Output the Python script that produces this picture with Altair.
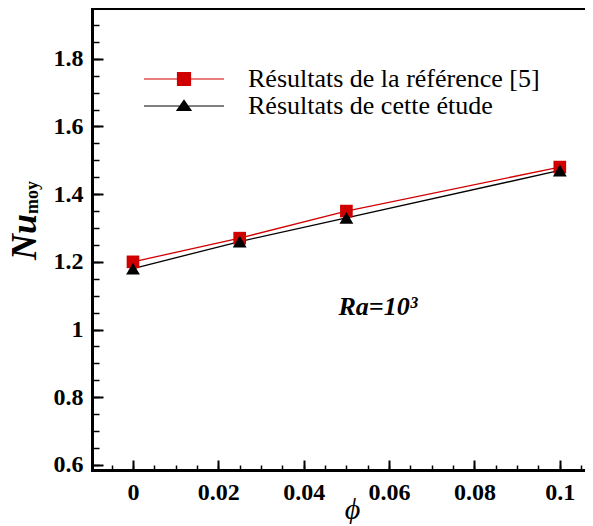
import altair as alt
import pandas as pd

# ---- data ----
phi = [0.0, 0.025, 0.05, 0.1]
nu_reference = [1.20, 1.27, 1.35, 1.48]
nu_study = [1.18, 1.26, 1.33, 1.47]
series_names = ["Résultats de la référence [5]", "Résultats de cette étude"]
series_colors = ["#d00000", "#000000"]

x_major = [0, 0.02, 0.04, 0.06, 0.08, 0.1]
x_minor = [-0.005, 0.0, 0.005, 0.01, 0.015, 0.02, 0.025, 0.03, 0.035, 0.04, 0.045,
           0.05, 0.055, 0.06, 0.065, 0.07, 0.075, 0.08, 0.085, 0.09, 0.095, 0.1, 0.105]
y_major = [0.6, 0.8, 1.0, 1.2, 1.4, 1.6, 1.8]
y_minor = [0.6, 0.65, 0.7, 0.75, 0.8, 0.85, 0.9, 0.95, 1.0, 1.05, 1.1, 1.15, 1.2, 1.25,
           1.3, 1.35, 1.4, 1.45, 1.5, 1.55, 1.6, 1.65, 1.7, 1.75, 1.8, 1.85, 1.9]

ann_x = [0.0574]
ann_y = [1.066]
ann_text = ["Ra=10³"]

x_domain = [-0.0096, 0.1059]
y_domain = [0.585, 1.95]

FONT = "Liberation Serif"

rows = []
for p, a, b in zip(phi, nu_reference, nu_study):
    rows.append({"phi": p, "nu": a, "series": series_names[0]})
    rows.append({"phi": p, "nu": b, "series": series_names[1]})
df = pd.DataFrame(rows)
ann = pd.DataFrame({"x": ann_x, "y": ann_y, "t": ann_text})

xs = alt.Scale(domain=x_domain, nice=False, zero=False)
ys = alt.Scale(domain=y_domain, nice=False, zero=False)

x_main = alt.Axis(orient="bottom", values=x_major, format="~g", ticks=False, domain=True,
                  domainWidth=3, domainColor="black", domainCap="square",
                  labelFont=FONT, labelFontSize=24, labelFontWeight="bold", labelColor="black",
                  labelPadding=10, title="ϕ", titleFont=FONT, titleFontSize=30,
                  titleFontStyle="italic", titleFontWeight="normal", titleColor="black",
                  titleBaseline="alphabetic", titleY=48, titleX=260)
y_main = alt.Axis(orient="left", values=y_major, format="~g", ticks=False, domain=True,
                  domainWidth=3, domainColor="black", domainCap="square",
                  labelFont=FONT, labelFontSize=24, labelFontWeight="bold", labelColor="black",
                  labelPadding=9, title=None)
x_maj_ticks = alt.Axis(orient="bottom", values=x_major, offset=-10, tickSize=10, tickWidth=2,
                       tickColor="black", labels=False, domain=False, title=None)
y_maj_ticks = alt.Axis(orient="left", values=y_major, offset=-11, tickSize=11, tickWidth=2,
                       tickColor="black", labels=False, domain=False, title=None)
x_min_ticks = alt.Axis(orient="bottom", values=x_minor, offset=-5, tickSize=5, tickWidth=1.5,
                       tickColor="black", labels=False, domain=False, title=None)
y_min_ticks = alt.Axis(orient="left", values=y_minor, offset=-7, tickSize=7, tickWidth=1.5,
                       tickColor="black", labels=False, domain=False, title=None)
x_top = alt.Axis(orient="top", ticks=False, labels=False, domain=True, domainWidth=3,
                 domainColor="black", domainCap="square", title=None, values=x_major)

ref_df = df[df.series == series_names[0]]
stu_df = df[df.series == series_names[1]]

red_line = alt.Chart(ref_df).mark_line(color=series_colors[0], strokeWidth=1.3).encode(
    x=alt.X("phi:Q", scale=xs, axis=x_main),
    y=alt.Y("nu:Q", scale=ys, axis=y_main),
)
black_line = alt.Chart(stu_df).mark_line(color=series_colors[1], strokeWidth=1.3).encode(
    x=alt.X("phi:Q", scale=xs, axis=x_maj_ticks),
    y=alt.Y("nu:Q", scale=ys, axis=y_maj_ticks),
)
red_sq = alt.Chart(ref_df).mark_square(color=series_colors[0], size=160, opacity=1).encode(
    x=alt.X("phi:Q", scale=xs, axis=x_min_ticks),
    y=alt.Y("nu:Q", scale=ys, axis=y_min_ticks),
)
black_tri = alt.Chart(stu_df).mark_point(shape="triangle-up", filled=True, color=series_colors[1],
                                         size=190, opacity=1).encode(
    x=alt.X("phi:Q", scale=xs, axis=x_top),
    y=alt.Y("nu:Q", scale=ys, axis=None),
)

sq_path = "M-4,0H4M-0.65,-0.65H0.65V0.65H-0.65Z"
tri_path = "M-4,0H4M0,-0.56L0.7,0.44H-0.7Z"
leg = alt.Legend(title=None, orient="none", legendX=79, legendY=58, symbolSize=400,
                 symbolStrokeWidth=1.2, labelFont=FONT, labelFontSize=26, labelColor="black",
                 labelOffset=51, rowPadding=1, padding=0, labelLimit=400)
legend_layer = alt.Chart(df).mark_point(filled=True, opacity=1).encode(
    fill=alt.Fill("series:N", scale=alt.Scale(domain=series_names, range=series_colors), legend=leg),
    stroke=alt.Stroke("series:N", scale=alt.Scale(domain=series_names, range=series_colors), legend=leg),
    shape=alt.Shape("series:N", scale=alt.Scale(domain=series_names, range=[sq_path, tri_path]), legend=leg),
).transform_filter("false")

ra_text = alt.Chart(ann).mark_text(font=FONT, fontSize=26, fontWeight="bold", fontStyle="italic",
                                   color="black", align="center", baseline="middle").encode(
    x=alt.X("x:Q", scale=xs, axis=None),
    y=alt.Y("y:Q", scale=ys, axis=None),
    text="t:N",
)

nu_lbl = alt.Chart(pd.DataFrame({"t": ["Nu"]})).mark_text(
    font=FONT, fontSize=36, fontWeight="bold", fontStyle="italic", color="black",
    angle=270, align="left", baseline="alphabetic").encode(
    x=alt.value(-56), y=alt.value(252), text="t:N")
moy_lbl = alt.Chart(pd.DataFrame({"t": ["moy"]})).mark_text(
    font=FONT, fontSize=18, fontWeight="bold", color="black",
    angle=270, align="left", baseline="alphabetic").encode(
    x=alt.value(-54), y=alt.value(206), text="t:N")

chart = alt.layer(red_line, black_line, red_sq, black_tri, legend_layer, ra_text, nu_lbl, moy_lbl
).resolve_axis(x="independent", y="independent").properties(
    width=493, height=462,
    autosize=alt.AutoSizeParams(type="none"),
    padding={"left": 84, "top": 0, "right": 0, "bottom": 54},
    background="white",
).configure_view(strokeWidth=0, stroke="transparent").configure_axis(grid=False)

chart.save("out.html", embed_options={"renderer": "svg", "actions": False})
